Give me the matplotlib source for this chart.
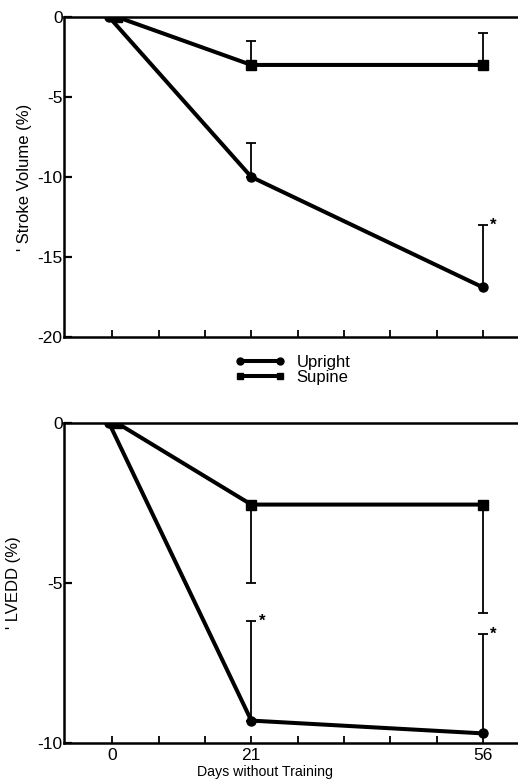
import matplotlib
matplotlib.use("Agg")
import matplotlib.pyplot as plt
import numpy as np
from matplotlib.lines import Line2D

plt.rcParams['font.family'] = ['Liberation Sans', 'DejaVu Sans']

# data
days = [0, 21, 56]

sv_upright = [0, -10.0, -16.9]
sv_upright_err = [0, 2.1, 3.9]
sv_supine = [0, -3.0, -3.0]
sv_supine_err = [0, 1.5, 2.0]

lvedd_upright = [0, -9.3, -9.7]
lvedd_upright_err = [0, 3.1, 3.1]
lvedd_supine = [0, -2.55, -2.55]
lvedd_supine_err = [0, 2.45, 3.4]

# significance marks (* next to upright error cap)
sv_stars = [False, False, True]
lvedd_stars = [False, True, True]

# small dodge of the day-0 markers, as in the original
dodge_up = np.array([-0.5, 0, 0])
dodge_sup = np.array([0.7, 0, 0])


def panel(ax, up, up_err, sup, sup_err, stars, ymin, yticks, sup_down):
  x_up = np.array(days) + dodge_up
  x_sup = np.array(days) + dodge_sup
  ax.plot(x_up, up, color='black', lw=2.9, marker='o', ms=6.5, zorder=3,
          solid_capstyle='round')
  ax.plot(x_sup, sup, color='black', lw=2.9, marker='s', ms=6.5, zorder=3)
  for i in range(1, len(days)):
    # upright bars point up
    ax.errorbar(days[i], up[i], yerr=[[0], [up_err[i]]], color='black',
                lw=1.3, capsize=3.5, capthick=1.3, zorder=2)
    if sup_down:
      ax.errorbar(days[i], sup[i], yerr=[[sup_err[i]], [0]], color='black',
                  lw=1.3, capsize=3.5, capthick=1.3, zorder=2)
    else:
      ax.errorbar(days[i], sup[i], yerr=[[0], [sup_err[i]]], color='black',
                  lw=1.3, capsize=3.5, capthick=1.3, zorder=2)
    if stars[i]:
      ax.text(days[i] + 1.1, up[i] + up_err[i], '*', fontsize=12,
              fontweight='bold', ha='left', va='center')

  ax.set_xlim(-7.3, 61.3)
  ax.set_ylim(ymin, 0)
  ax.set_yticks(yticks)
  ax.set_yticklabels([str(t) for t in yticks], fontsize=12.5)
  ax.set_xticks(days)
  ax.set_xticks(np.arange(0, 57, 7), minor=True)
  ax.tick_params(axis='x', which='both', direction='in', length=5, width=1.3)
  ax.tick_params(axis='y', direction='in', length=6, width=1.6, pad=1)
  ax.spines['right'].set_visible(False)
  for s in ['left', 'bottom', 'top']:
    ax.spines[s].set_linewidth(1.8)


fig = plt.figure(figsize=(5.18, 7.84), dpi=100)
ax1 = fig.add_axes([0.1236, 0.5702, 0.8764, 0.4082])
ax2 = fig.add_axes([0.1236, 0.0523, 0.8764, 0.4082])

panel(ax1, sv_upright, sv_upright_err, sv_supine, sv_supine_err, sv_stars,
      -20, [0, -5, -10, -15, -20], False)
ax1.set_xticklabels([])
ax1.set_ylabel("' Stroke Volume (%)", fontsize=12, labelpad=4)

panel(ax2, lvedd_upright, lvedd_upright_err, lvedd_supine, lvedd_supine_err,
      lvedd_stars, -10, [0, -5, -10], True)
ax2.set_xticklabels([str(d) for d in days], fontsize=12.5)
ax2.set_xlabel("Days without Training", fontsize=10.2)
ax2.xaxis.set_label_coords(0.443, -0.07)
ax2.set_ylabel("' LVEDD (%)", fontsize=12, labelpad=12)

handles = [Line2D([], [], color='black', lw=2.9, marker='o', ms=5),
           Line2D([], [], color='black', lw=2.9, marker='s', ms=5)]
fig.legend(handles, ['Upright', 'Supine'], loc='center',
           bbox_to_anchor=(0.565, 0.528), numpoints=2, frameon=False,
           fontsize=12, handlelength=3.0, handletextpad=0.7,
           labelspacing=0.0, borderpad=0)

fig.savefig('out.png', dpi=100)
